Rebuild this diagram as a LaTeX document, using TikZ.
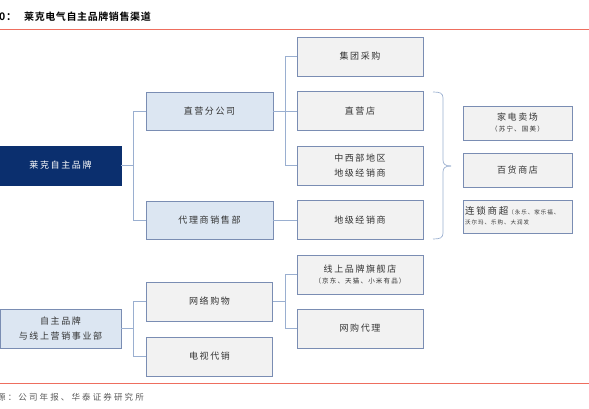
\documentclass[tikz,border=0pt]{standalone}
\usepackage{fontspec}
\setmainfont{Noto Sans CJK SC}[LetterSpace=18]
\newfontfamily\cjkb{Noto Sans CJK SC Bold}[LetterSpace=6]
\newfontfamily\cjks{Noto Sans CJK SC}[LetterSpace=25]
\definecolor{navy}{HTML}{0B2F6E}
\definecolor{lblue}{HTML}{DCE6F2}
\definecolor{lgray}{HTML}{F2F2F2}
\definecolor{bord}{HTML}{7A8DB3}
\definecolor{conn}{HTML}{9AAFD0}
\definecolor{redl}{HTML}{EE6E5E}
\definecolor{txt}{HTML}{333333}
\begin{document}
\begin{tikzpicture}[x=1pt,y=-1pt,
  base/.style={draw=bord,line width=0.9pt,inner sep=0pt,align=center,text=txt,font=\fontsize{9}{15}\selectfont},
  bluebox/.style={base,fill=lblue,minimum width=127pt,minimum height=38pt},
  graybox/.style={base,fill=lgray,minimum width=126pt,minimum height=39pt},
  sidebox/.style={base,fill=lgray,minimum width=109pt,minimum height=34pt},
  navybox/.style={base,draw=navy,fill=navy,text=white,minimum width=121pt,minimum height=39pt},
  lbox/.style={base,fill=lblue,minimum width=121pt,minimum height=39pt},
  con/.style={draw=conn,line width=0.9pt}]
\useasboundingbox (0,0) rectangle (589,409);
% title and lines
\node[anchor=west,inner sep=0pt,font=\cjkb\fontsize{10.5}{12}\selectfont] (num) at (-1,17) {0：};
\node[anchor=west,inner sep=0pt,font=\cjkb\fontsize{10}{12}\selectfont] (title) at (24,17) {莱克电气自主品牌销售渠道};
\draw[redl,line width=1pt] (0,30) -- (589,30);
\draw[redl,line width=1pt] (0,383) -- (589,383);
\node[anchor=west,inner sep=0pt,text=txt!80,font=\cjks\fontsize{8.5}{10}\selectfont] (src) at (-3,397) {源：公司年报、华泰证券研究所};
% boxes
\node[navybox] (brand) at (60.5,165.5) {莱克自主品牌};
\node[bluebox] (zy) at (209.5,111) {直营分公司};
\node[bluebox] (dl) at (209.5,220) {代理商销售部};
\node[graybox] (jt) at (360,56.5) {集团采购};
\node[graybox] (zyd) at (360,111) {直营店};
\node[graybox] (zxb) at (360,165.5) {中西部地区\\地级经销商};
\node[graybox] (djs) at (360,220) {地级经销商};
\node[sidebox] (jd) at (517.5,123) {家电卖场\\[-4pt]{\fontsize{6.5}{8}\selectfont （苏宁、国美）}};
\node[sidebox] (bh) at (517.5,170) {百货商店};
\node[sidebox,minimum height=33pt] (ls) at (517.5,216.5) {};
\node[anchor=north west,inner sep=0pt,text=txt,align=left] (lst) at (465,206) {{\fontsize{9.5}{11}\selectfont 连锁商超}{\fontsize{5.5}{7}\selectfont （永乐、家乐福、}\\[-2pt]{\fontsize{5.5}{7}\selectfont 沃尔玛、乐购、大润发}};
\node[lbox] (online) at (60.5,328.5) {自主品牌\\与线上营销事业部};
\node[graybox] (wl) at (209.5,301.5) {网络购物};
\node[graybox] (ds) at (209.5,356.5) {电视代销};
\node[graybox] (qj) at (360,274.5) {线上品牌旗舰店\\[-4pt]{\fontsize{6.5}{8}\selectfont （京东、天猫、小米有品）}};
\node[graybox] (wg) at (360,328.5) {网购代理};
% connectors
\coordinate (j1) at (133,165.5);
\draw[con] (brand.east) -- (j1);
\draw[con] (zy.west) -| (j1);
\draw[con] (dl.west) -| (j1);
\coordinate (j2) at (285,111);
\draw[con] (zy.east) -- (zyd.west);
\draw[con] (jt.west) -| (j2);
\draw[con] (zxb.west) -| (j2);
\draw[con] (dl.east) -- (djs.west);
\coordinate (j3) at (133,328.5);
\draw[con] (online.east) -- (j3);
\draw[con] (wl.west) -| (j3);
\draw[con] (ds.west) -| (j3);
\coordinate (j4) at (285,301.5);
\draw[con] (wl.east) -- (j4);
\draw[con] (qj.west) -| (j4);
\draw[con] (wg.west) -| (j4);
% brace
\draw[con,line width=0.7pt] (433,92) .. controls (440,92) and (443,93) .. (443,98) -- (443,160) .. controls (443,164) and (445,166) .. (451,166);
\draw[con,line width=0.7pt] (433,239) .. controls (440,239) and (443,238) .. (443,233) -- (443,172) .. controls (443,168) and (445,166) .. (451,166);
\end{tikzpicture}
\end{document}
